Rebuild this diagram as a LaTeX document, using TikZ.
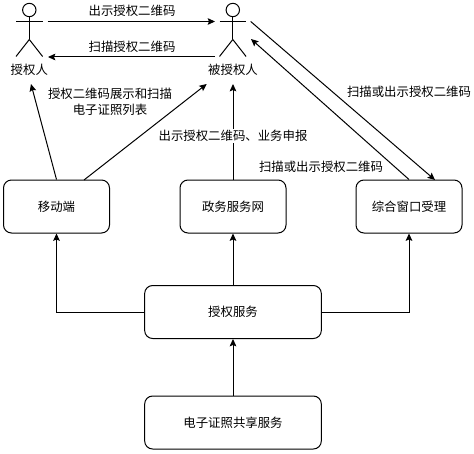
\documentclass[tikz,border=0pt]{standalone}
\usepackage{fontspec}
\setmainfont{Noto Sans CJK SC}
\usetikzlibrary{arrows.meta}
\tikzset{
  svcbox/.style={draw,rounded corners=6pt,line width=0.75pt,minimum height=39.75pt,minimum width=79.5pt,font=\fontsize{9.3pt}{11pt}\selectfont},
  widebox/.style={svcbox,minimum width=132.5pt},
  flow/.style={-{Stealth[length=5.5pt,width=5pt,inset=1pt]},line width=0.75pt},
  actorline/.style={line width=0.75pt},
  lbl/.style={inner sep=1pt,align=center,font=\fontsize{9.3pt}{12pt}\selectfont}
}
\begin{document}
\begin{tikzpicture}[x=0.75pt,y=-0.75pt]
\useasboundingbox (0,0) rectangle (474,453);
\node[svcbox] (mobile) at (56.5,206.5) {移动端};
\node[svcbox] (portal) at (233,206.5) {政务服务网};
\node[svcbox] (window) at (409,206.5) {综合窗口受理};
\node[widebox] (auth) at (233,312) {授权服务};
\node[widebox] (share) at (233,422.5) {电子证照共享服务};
% two actors
\foreach \x in {29.3,232.8} {
  \draw[actorline] (\x,10) circle (6.7);
  \draw[actorline] (\x,16.7) -- (\x,39.5);
  \draw[actorline] (\x-13.3,21.3) -- (\x+13.3,21.3);
  \draw[actorline] (\x-13.3,56.5) -- (\x,39.5) -- (\x+13.3,56.5);
}
\node[lbl] (grantor) at (29.3,70) {授权人};
\node[lbl] (grantee) at (233,70) {被授权人};
\coordinate (grantorhand) at (47.7,21.5);
\coordinate (granteehand) at (215,21.5);
\coordinate (granteeleft) at (215,57);
\coordinate (grantorright) at (48,57);
\coordinate (grantorfoot) at (31,84);
\coordinate (granteefootl) at (206.7,84);
\coordinate (granteefoot) at (233,84);
\coordinate (granteeout) at (250.7,21.5);
\coordinate (granteein) at (251,39);
\coordinate (mobileout) at (84,180);
\coordinate (windowin) at (435,180);
\draw[flow] (grantorhand) -- (granteehand);
\draw[flow] (granteeleft) -- (grantorright);
\draw[flow] (mobile.north) -- (grantorfoot);
\draw[flow] (mobileout) -- (granteefootl);
\draw[flow] (portal.north) -- (granteefoot);
\draw[flow] (granteeout) -- (windowin);
\draw[flow] (window.north) -- (granteein);
\draw[flow] (auth.west) -| (mobile.south);
\draw[flow] (auth.north) -- (portal.south);
\draw[flow] (auth.east) -| (window.south);
\draw[flow] (share.north) -- (auth.south);
\node[lbl] (showlbl) at (132,11) {出示授权二维码};
\node[lbl] (scanlbl) at (132,47) {扫描授权二维码};
\node[lbl] (listlbl) at (110,102) {授权二维码展示和扫描\\电子证照列表};
\node[lbl,fill=white] (applylbl) at (233,136) {出示授权二维码、业务申报};
\node[lbl] (upperlbl) at (409,92) {扫描或出示授权二维码};
\node[lbl] (lowerlbl) at (321,167) {扫描或出示授权二维码};
\end{tikzpicture}
\end{document}
